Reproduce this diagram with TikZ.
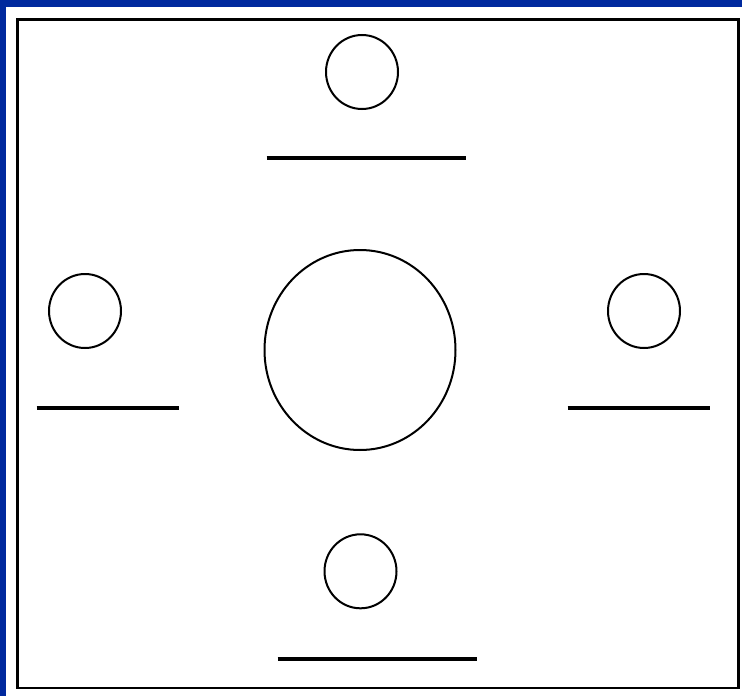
\documentclass[tikz,border=0pt]{standalone}
\usepackage{xcolor}
\usetikzlibrary{shapes.geometric}
\definecolor{slideblue}{RGB}{0,41,158}

\begin{document}
\begin{tikzpicture}[x=1pt, y=-1pt,
    ring/.style={ellipse, draw, line width=2pt, inner sep=0pt, minimum width=72pt, minimum height=74pt},
    bar/.style={line width=4pt}]
    \useasboundingbox (0,0) rectangle (742,696);
    \fill[slideblue] (0,0) rectangle (742,6.7);
    \fill[slideblue] (0,0) rectangle (6,696);
    \draw[line width=2.6pt] (17.5,19.7) rectangle (738.7,687.8);
    % small circles
    \node[ring] (top) at (362,72) {};
    \node[ring] (left) at (85,311) {};
    \node[ring] (right) at (644,311) {};
    \node[ring] (bottom) at (360.5,571.3) {};
    % big circle
    \node[ring, minimum width=191pt, minimum height=200pt] (centre) at (360,350) {};
    % bars under the small circles
    \draw[bar] (266.7,158) -- (466,158);
    \draw[bar] (36.7,407.7) -- (179,407.7);
    \draw[bar] (567.7,407.7) -- (710,407.7);
    \draw[bar] (277.7,659.3) -- (476.7,659.3);
\end{tikzpicture}
\end{document}
